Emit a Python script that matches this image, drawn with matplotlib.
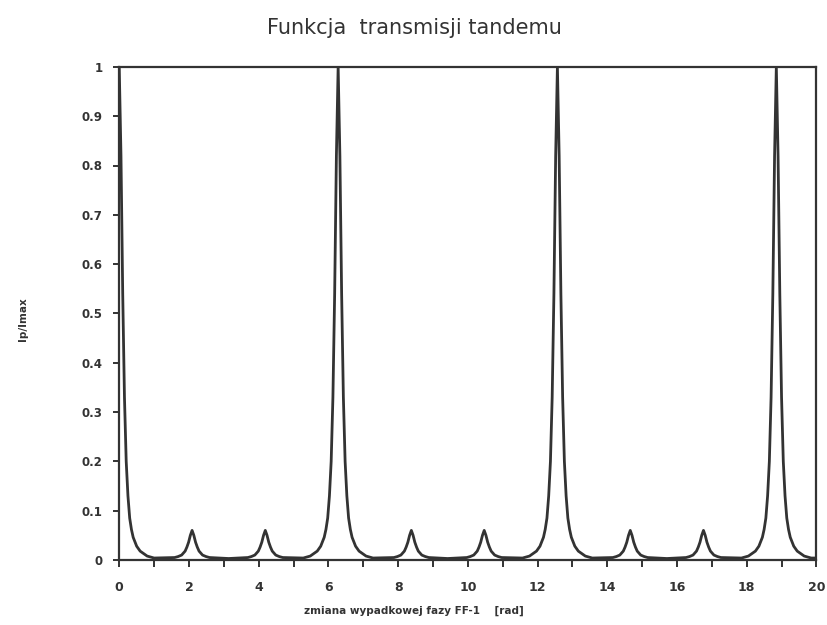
import matplotlib
matplotlib.use("Agg")
import matplotlib.pyplot as plt
from matplotlib.ticker import MultipleLocator, FixedLocator, FixedFormatter

# Values (phase in rad, normalised intensity)
phase = [
    # main peak at 0 (right half)
    0.00, 0.05, 0.10, 0.15, 0.20, 0.25, 0.30, 0.35, 0.40, 0.50, 0.60, 0.80, 1.00,
    # side peak ~2.09
    1.59, 1.69, 1.79, 1.89, 1.94, 1.99, 2.04, 2.09, 2.14, 2.19, 2.24, 2.29, 2.39, 2.49, 2.59,
    3.14,
    # side peak ~4.19
    3.69, 3.79, 3.89, 3.99, 4.04, 4.09, 4.14, 4.19, 4.24, 4.29, 4.34, 4.39, 4.49, 4.59, 4.69,
    # main peak ~6.28
    5.28, 5.48, 5.68, 5.78, 5.88, 5.93, 5.98, 6.03, 6.08, 6.13, 6.18, 6.23, 6.28,
    6.33, 6.38, 6.43, 6.48, 6.53, 6.58, 6.63, 6.68, 6.78, 6.88, 7.08, 7.28,
    # side peak ~8.38
    7.88, 7.98, 8.08, 8.18, 8.23, 8.28, 8.33, 8.38, 8.43, 8.48, 8.53, 8.58, 8.68, 8.78, 8.88,
    9.42,
    # side peak ~10.47
    9.97, 10.07, 10.17, 10.27, 10.32, 10.37, 10.42, 10.47, 10.52, 10.57, 10.62, 10.67, 10.77, 10.87, 10.97,
    # main peak ~12.57
    11.57, 11.77, 11.97, 12.07, 12.17, 12.22, 12.27, 12.32, 12.37, 12.42, 12.47, 12.52, 12.57,
    12.62, 12.67, 12.72, 12.77, 12.82, 12.87, 12.92, 12.97, 13.07, 13.17, 13.37, 13.57,
    # side peak ~14.66
    14.16, 14.26, 14.36, 14.46, 14.51, 14.56, 14.61, 14.66, 14.71, 14.76, 14.81, 14.86, 14.96, 15.06, 15.16,
    15.71,
    # side peak ~16.76
    16.26, 16.36, 16.46, 16.56, 16.61, 16.66, 16.71, 16.76, 16.81, 16.86, 16.91, 16.96, 17.06, 17.16, 17.26,
    # main peak ~18.85
    17.85, 18.05, 18.25, 18.35, 18.45, 18.50, 18.55, 18.60, 18.65, 18.70, 18.75, 18.80, 18.85,
    18.90, 18.95, 19.00, 19.05, 19.10, 19.15, 19.20, 19.25, 19.35, 19.45, 19.65, 19.85,
    20.00,
]

intensity = [
    1.00, 0.82, 0.54, 0.33, 0.20, 0.13, 0.085, 0.062, 0.046, 0.028, 0.018, 0.008, 0.004,
    0.005, 0.007, 0.010, 0.018, 0.026, 0.036, 0.050, 0.060, 0.050, 0.036, 0.026, 0.018, 0.010, 0.007, 0.005,
    0.003,
    0.005, 0.007, 0.010, 0.018, 0.026, 0.036, 0.050, 0.060, 0.050, 0.036, 0.026, 0.018, 0.010, 0.007, 0.005,
    0.004, 0.008, 0.018, 0.028, 0.046, 0.062, 0.085, 0.13, 0.20, 0.33, 0.54, 0.82, 1.00,
    0.82, 0.54, 0.33, 0.20, 0.13, 0.085, 0.062, 0.046, 0.028, 0.018, 0.008, 0.004,
    0.005, 0.007, 0.010, 0.018, 0.026, 0.036, 0.050, 0.060, 0.050, 0.036, 0.026, 0.018, 0.010, 0.007, 0.005,
    0.003,
    0.005, 0.007, 0.010, 0.018, 0.026, 0.036, 0.050, 0.060, 0.050, 0.036, 0.026, 0.018, 0.010, 0.007, 0.005,
    0.004, 0.008, 0.018, 0.028, 0.046, 0.062, 0.085, 0.13, 0.20, 0.33, 0.54, 0.82, 1.00,
    0.82, 0.54, 0.33, 0.20, 0.13, 0.085, 0.062, 0.046, 0.028, 0.018, 0.008, 0.004,
    0.005, 0.007, 0.010, 0.018, 0.026, 0.036, 0.050, 0.060, 0.050, 0.036, 0.026, 0.018, 0.010, 0.007, 0.005,
    0.003,
    0.005, 0.007, 0.010, 0.018, 0.026, 0.036, 0.050, 0.060, 0.050, 0.036, 0.026, 0.018, 0.010, 0.007, 0.005,
    0.004, 0.008, 0.018, 0.028, 0.046, 0.062, 0.085, 0.13, 0.20, 0.33, 0.54, 0.82, 1.00,
    0.82, 0.54, 0.33, 0.20, 0.13, 0.085, 0.062, 0.046, 0.028, 0.018, 0.008, 0.004,
    0.004,
]

y_ticks = [0, 0.1, 0.2, 0.3, 0.4, 0.5, 0.6, 0.7, 0.8, 0.9, 1.0]
y_labels = ["0", "0.1", "0.2", "0.3", "0.4", "0.5", "0.6", "0.7", "0.8", "0.9", "1"]
x_ticks = [0, 2, 4, 6, 8, 10, 12, 14, 16, 18, 20]

INK = "#333333"

fig = plt.figure(figsize=(8.28, 6.25), dpi=100, facecolor="white")
ax = fig.add_axes([0.144, 0.104, 0.842, 0.789])

ax.plot(phase, intensity, color=INK, linewidth=2.0, solid_joinstyle="round")

ax.set_xlim(0, 20)
ax.set_ylim(0, 1)

for side in ["left", "right", "top", "bottom"]:
    ax.spines[side].set_color(INK)
    ax.spines[side].set_linewidth(1.6)

ax.xaxis.set_major_locator(FixedLocator(x_ticks))
ax.xaxis.set_minor_locator(MultipleLocator(1))
ax.yaxis.set_major_locator(FixedLocator(y_ticks))
ax.yaxis.set_major_formatter(FixedFormatter(y_labels))

ax.tick_params(axis="both", which="both", direction="out", color=INK,
               width=1.4, labelcolor=INK)
ax.tick_params(axis="x", which="major", length=5, pad=10, labelsize=9)
ax.tick_params(axis="x", which="minor", length=5)
ax.tick_params(axis="y", which="major", length=4, pad=8, labelsize=8.5)
for lbl in ax.get_xticklabels() + ax.get_yticklabels():
    lbl.set_fontweight("bold")

fig.text(0.5, 0.955, "Funkcja  transmisji tandemu", ha="center", va="center",
         fontsize=15, color=INK, family="DejaVu Sans")
fig.text(0.5, 0.022, "zmiana wypadkowej fazy FF-1    [rad]", ha="center",
         va="center", fontsize=7.5, color=INK, fontweight="bold")
fig.text(0.028, 0.49, "Ip/Imax", ha="center", va="center", rotation=90,
         fontsize=7.5, color=INK, fontweight="bold")

fig.savefig("out.png", dpi=100, facecolor="white")
